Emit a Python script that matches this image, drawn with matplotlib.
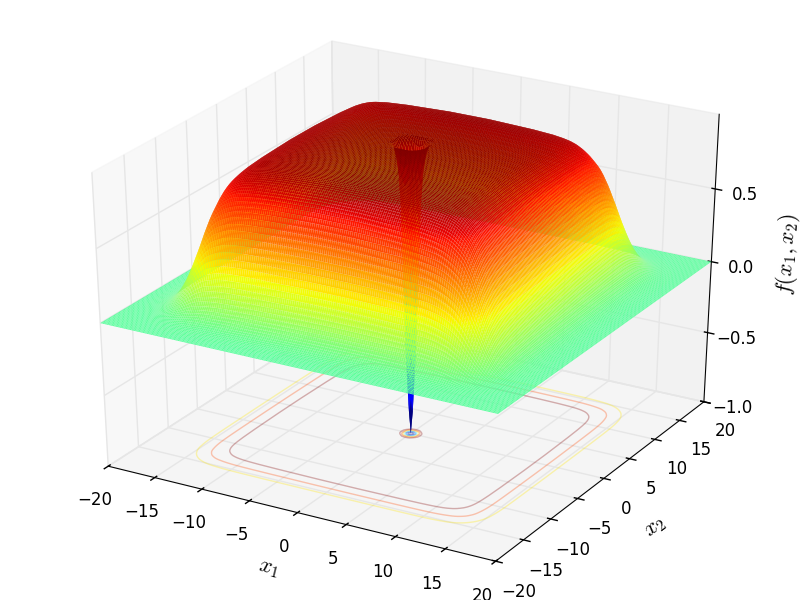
#!/usr/bin/env python3
import matplotlib
matplotlib.use('Agg')

import matplotlib.pyplot as plt
import numpy as np

plt.style.use('classic')

# surface height read along one edge-to-edge cut, |x| = 0, 0.2, ... 20
half_profile = [
    1.0, 1.0, 1.0, 1.0, 1.0, 1.0, 1.0, 1.0, 1.0, 1.0,
    1.0, 0.9995, 0.999, 0.9985, 0.998, 0.9975, 0.997, 0.9965, 0.996, 0.9955,
    0.995, 0.9945, 0.994, 0.9935, 0.993, 0.9925, 0.992, 0.9915, 0.991, 0.9905,
    0.99, 0.9895, 0.989, 0.988, 0.987, 0.986, 0.985, 0.984, 0.983, 0.982,
    0.981, 0.98, 0.979, 0.977, 0.975, 0.973, 0.971, 0.969, 0.966, 0.963,
    0.96, 0.955, 0.95, 0.944, 0.936, 0.928, 0.918, 0.907, 0.895, 0.881,
    0.866, 0.85, 0.83, 0.805, 0.775, 0.745, 0.71, 0.67, 0.63, 0.585,
    0.54, 0.495, 0.45, 0.405, 0.36, 0.32, 0.28, 0.245, 0.21, 0.18,
    0.15, 0.125, 0.105, 0.085, 0.07, 0.055, 0.045, 0.035, 0.028, 0.022,
    0.017, 0.013, 0.01, 0.008, 0.005, 0.003, 0.002, 0.001, 0.0, 0.0,
    0.0,
]
# depth of the central spike, same spacing
half_spike = [1.00, 0.92, 0.78, 0.50, 0.25, 0.13, 0.07, 0.03, 0.01, 0.00]

x_ticks = [-20, -15, -10, -5, 0, 5, 10, 15, 20]
z_ticks = [-1.0, -0.5, 0.0, 0.5]
contour_levels = [-0.75, -0.5, -0.25, 0.25, 0.5, 0.75]


def mirrored(half):
    half = np.array(half)
    return np.concatenate([half[:0:-1], half])


def build_surface():
    profile = mirrored(half_profile)
    n = len(half_profile) - 1
    x = np.arange(-n, n + 1) * 0.2
    spike = np.zeros(len(x))
    s = mirrored(half_spike)
    m = len(half_spike) - 1
    spike[n - m:n + m + 1] = s
    X, Y = np.meshgrid(x, x)
    Z = np.outer(profile, profile) - 2 * np.outer(spike, spike)
    return X, Y, Z


def main():
    X, Y, Z = build_surface()
    fig = plt.figure(figsize=(8, 6))
    ax = fig.add_axes([0, 0, 1, 1], projection='3d')
    # let the cube stretch to the full 4:3 panel like old mplot3d did
    ax.apply_aspect = lambda position=None: None
    ax.set_box_aspect((1, 1, 1), zoom=0.94)
    ax.plot_surface(X, Y, Z, rstride=1, cstride=1, cmap='jet', vmin=-0.85, vmax=1, linewidth=0)
    ax.contour(X, Y, Z, levels=contour_levels, zdir='z', offset=-1, cmap='jet',
               vmin=-0.75, vmax=0.75, alpha=0.3)

    ax.set_xlim(-20, 20)
    ax.set_ylim(-20, 20)
    ax.set_zlim(-1, 1)
    ax.set_xticks(x_ticks)
    ax.set_yticks(x_ticks)
    ax.set_zticks(z_ticks)
    ax.tick_params(axis='x', pad=7)
    ax.tick_params(axis='y', pad=7)
    ax.tick_params(axis='z', pad=5)
    ax.set_xlabel(r'$x_1$', fontsize=16, labelpad=12)
    ax.set_ylabel(r'$x_2$', fontsize=16, labelpad=14)
    ax.set_zlabel(r'$f(x_1,x_2)$', fontsize=16, labelpad=13)
    fig.savefig('out.png', dpi=100)


if __name__ == '__main__':
    main()
